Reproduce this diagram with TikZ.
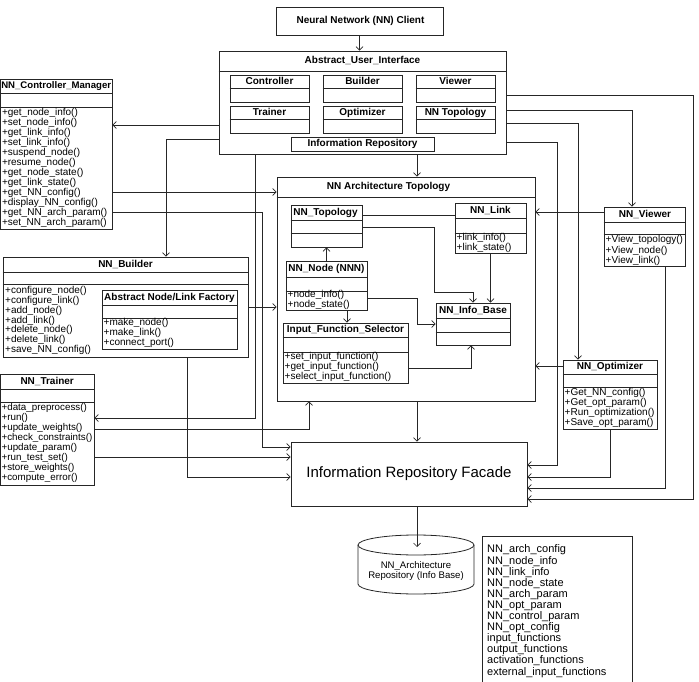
\documentclass[tikz,border=0pt]{standalone}
\usepackage{fontspec}
\setmainfont{Liberation Sans}
\usetikzlibrary{arrows.meta,fit}

\tikzset{
  cls/.style={draw=black!85, line width=0.8pt, inner sep=0pt},
  sepline/.style={draw=black!85, line width=0.8pt},
  ttl/.style={font=\fontsize{10}{10}\selectfont\bfseries, inner sep=0pt, text height=7.2pt, text depth=1.6pt},
  mth/.style={font=\fontsize{10}{10}\selectfont, inner sep=0pt, anchor=west, text height=7.2pt, text depth=2pt},
  attr/.style={font=\fontsize{11}{11}\selectfont, inner sep=0pt, anchor=west, text height=8pt, text depth=2.2pt},
  lnk/.style={->, line width=0.7pt, draw=black!85},
  >={Straight Barb[length=3.5pt,width=7pt]},
}

\begin{document}
\begin{tikzpicture}[x=1pt,y=-1pt]
  \useasboundingbox (0,0) rectangle (699,682);
  % ---------- class boxes ----------
  \foreach \n/\xa/\ya/\xb/\yb in {client/276/7/443/35, aui/219/51/506/154,
      uctl/230/75/309/102, ubld/323/75/402/102, uvwr/416/75/495/102,
      utrn/230/106/309/133, uopt/323/106/402/133, utop/416/106/495/133,
      irep/291/137/434/151,
      cm/0.4/79/112/229, builder/3/257/248/357, factory/102/290/237/349,
      trainer/0.4/374/94/485,
      nat/277/177/535/401, topo/291/205/362/247, link/455/203/526/253,
      nnode/286/261/367/310, ifs/283/323/408/383, infob/436/303/510/345,
      viewer/604/207/685/266, optimizer/563/360/657/429,
      facade/291/442/527/506, attrs/482/536/632/700}
    \node[cls, fit={(\xa,\ya) (\xb,\yb)}] (\n) {};
  % compartments
  \foreach \n/\y in {aui/71, uctl/88, ubld/88, uvwr/88, utrn/119, uopt/119, utop/119,
      cm/93, cm/107, builder/272, builder/284, factory/305, factory/318,
      trainer/389, trainer/402, nat/197, topo/220, topo/233, link/218, link/233,
      nnode/277, nnode/291, ifs/337, ifs/352, infob/318, infob/332,
      viewer/222, viewer/234, optimizer/374, optimizer/387}
    \draw[sepline] (\n.west |- 0,\y) -- (\n.east |- 0,\y);
  % titles
  \foreach \n/\x/\y/\txt in {client/360.5/21/{Neural Network (NN) Client},
      aui/362.5/61/{Abstract\_User\_Interface},
      uctl/269.5/81.5/Controller, ubld/362.5/81.5/Builder, uvwr/455.5/81.5/Viewer,
      utrn/269.5/112.5/Trainer, uopt/362.5/112.5/Optimizer, utop/455.5/112.5/{NN Topology},
      irep/362.5/144/{Information Repository},
      cm/56.2/86/{\fontsize{9.6}{10}\selectfont NN\_Controller\_Manager},
      builder/125.5/264.5/{NN\_Builder},
      factory/169.5/297.5/{Abstract Node/Link Factory}, trainer/47.2/381.5/{NN\_Trainer},
      nat/388.5/187/{NN Architecture Topology}, topo/325.5/212.5/{NN\_Topology},
      link/490.5/210.5/{NN\_Link}, nnode/326.5/269/{NN\_Node (NNN)},
      ifs/345.5/330/{Input\_Function\_Selector}, infob/473/310.5/{NN\_Info\_Base},
      viewer/645/214.5/{NN\_Viewer}, optimizer/610/367/{NN\_Optimizer}}
    \node[ttl] (\n-t) at (\x,\y) {\txt};
  % ---------- operations ----------
  \foreach \m [count=\i] in {get\_node\_info(), set\_node\_info(), get\_link\_info(),
      set\_link\_info(), suspend\_node(), resume\_node(), get\_node\_state(),
      get\_link\_state(), get\_NN\_config(), display\_NN\_config(),
      get\_NN\_arch\_param(), set\_NN\_arch\_param()}
    \node[mth] (cm-\i) at (1.8,{102.5+10*\i}) {+\m};
  \foreach \m [count=\i] in {configure\_node(), configure\_link(), add\_node(),
      add\_link(), delete\_node(), delete\_link(), save\_NN\_config()}
    \node[mth] (builder-\i) at (5,{281.2+9.8*\i}) {+\m};
  \foreach \m [count=\i] in {make\_node(), make\_link(), connect\_port()}
    \node[mth] (factory-\i) at (103.5,{313+10*\i}) {+\m};
  \foreach \m [count=\i] in {data\_preprocess(), run(), update\_weights(),
      check\_constraints(), update\_param(), run\_test\_set(), store\_weights(),
      compute\_error()}
    \node[mth, font=\fontsize{9.8}{10}\selectfont] (trainer-\i) at (1.4,{398+10*\i}) {+\m};
  \foreach \m [count=\i] in {link\_info(), link\_state()}
    \node[mth] (link-\i) at (456.5,{228+10*\i}) {+\m};
  \foreach \m [count=\i] in {node\_info(), node\_state()}
    \node[mth] (nnode-\i) at (287.5,{285+10*\i}) {+\m};
  \foreach \m [count=\i] in {set\_input\_function(), get\_input\_function(),
      select\_input\_function()}
    \node[mth] (ifs-\i) at (284.5,{347+10*\i}) {+\m};
  \foreach \m [count=\i] in {View\_topology(), View\_node(), View\_link()}
    \node[mth] (viewer-\i) at (605.5,{229.5+10.5*\i}) {+\m};
  \foreach \m [count=\i] in {Get\_NN\_config(), Get\_opt\_param(),
      Run\_optimization(), Save\_opt\_param()}
    \node[mth] (optimizer-\i) at (564.5,{383+10*\i}) {+\m};
  % ---------- facade, repository and its contents ----------
  \node[font=\fontsize{15}{15}\selectfont, inner sep=0pt] (facade-t) at (409,474)
    {Information Repository Facade};
  \draw[sepline] (416,545) ellipse [x radius=58pt, y radius=10pt];
  \draw[sepline] (358,545) -- (358,584) arc[start angle=180, end angle=360,
    x radius=58pt, y radius=10pt] -- (474,545);
  \coordinate (dbtop) at (417,547);
  \node[font=\fontsize{9.6}{10}\selectfont, align=center, inner sep=0pt] (db) at (416,571)
    {NN\_Architecture\\Repository (Info Base)};
  \foreach \a [count=\i] in {NN\_arch\_config, NN\_node\_info, NN\_link\_info,
      NN\_node\_state, NN\_arch\_param, NN\_opt\_param, NN\_control\_param,
      NN\_opt\_config, input\_functions, output\_functions, activation\_functions,
      external\_input\_functions}
    \node[attr] (attrs-\i) at (487,{538.9+11.1*\i}) {\a};
  % ---------- connectors ----------
  \draw[lnk] (client.south) -- (client.south |- aui.north);
  \draw[lnk] (aui.west |- 0,125) -- (cm.east |- 0,125);
  \draw[lnk] (aui.west |- 0,139) -| (166,0 |- builder.north);
  \draw[lnk] (255,0 |- aui.south) |- (trainer.east |- 0,418);
  \draw[lnk] (cm.east |- 0,192) -- (nat.west |- 0,192);
  \draw[lnk] (cm.east |- 0,212) -| (262,447) -- (facade.west |- 0,447);
  \draw[lnk] (aui.south -| 417,0) -- (nat.north -| 417,0);
  \draw[lnk] (builder.east |- 0,307) -- (nat.west |- 0,307);
  \draw[lnk] (187,0 |- builder.south) |- (facade.west |- 0,477);
  \draw[lnk] (trainer.east |- 0,429) -| (309,0 |- nat.south);
  \draw[lnk] (trainer.east |- 0,457) -- (facade.west |- 0,457);
  \draw[lnk] (nat.south -| 417,0) -- (facade.north -| 417,0);
  \draw[lnk] (facade.south -| 417,0) -- (dbtop);
  \draw[lnk] (aui.east |- 0,95) -| (693,499) -- (facade.east |- 0,499);
  \draw[lnk] (aui.east |- 0,110) -| (632,0 |- viewer.north);
  \draw[lnk] (aui.east |- 0,123) -| (578,0 |- optimizer.north);
  \draw[lnk] (aui.east |- 0,142) -| (557,465) -- (facade.east |- 0,465);
  \draw[lnk] (viewer.west |- 0,212) -- (nat.east |- 0,212);
  \draw[lnk] (665,0 |- viewer.south) |- (facade.east |- 0,488);
  \draw[lnk] (optimizer.west |- 0,366) -- (nat.east |- 0,366);
  \draw[lnk] (optimizer.south) |- (facade.east |- 0,477);
  % inside the topology package
  \draw[lnk,-] (topo.east |- 0,215) -- (link.west |- 0,215);
  \draw[lnk] (topo.east |- 0,227) -| (434,292) -| (infob.north);
  \draw[lnk] (link.south) -- (link.south |- infob.north);
  \draw[lnk] (nnode.north) -- (nnode.north |- topo.south);
  \draw[lnk] (nnode.east |- 0,298) -| (417,324) -- (infob.west |- 0,324);
  \draw[lnk] (347,0 |- nnode.south) -- (347,0 |- ifs.north);
  \draw[lnk] (ifs.east |- 0,368) -| (471,0 |- infob.south);
\end{tikzpicture}
\end{document}
